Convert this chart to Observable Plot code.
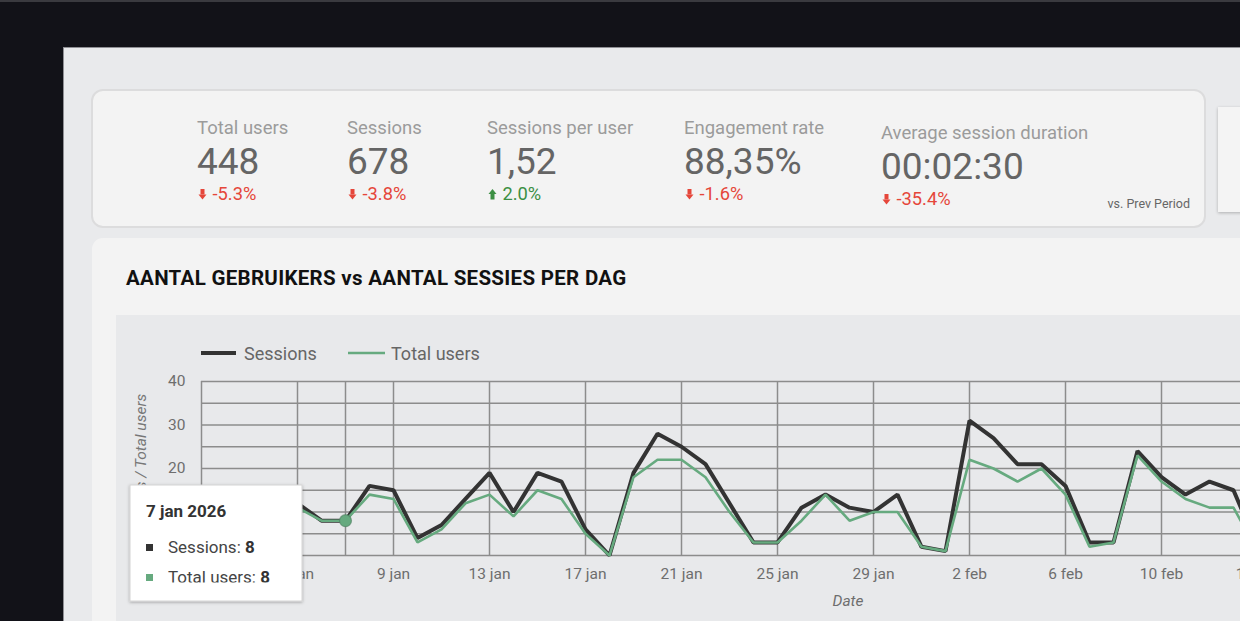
<!DOCTYPE html>
<html>
<head>
<meta charset="utf-8">
<script src="https://cdn.jsdelivr.net/npm/d3@7"></script>
<script src="https://cdn.jsdelivr.net/npm/@observablehq/plot@0.6"></script>
<style>
  html, body { margin: 0; padding: 0; width: 1240px; height: 621px; overflow: hidden; background: #121218; font-family: Roboto, sans-serif; }
  .abs { position: absolute; box-sizing: border-box; }
  #topline { left: 0; top: 0; width: 1240px; height: 2px; background: #3a3a3f; }
  #panel { left: 63px; top: 47px; width: 1200px; height: 600px; background: #e9eaec; border-top: 1px solid #8f8f94; border-left: 1px solid #8f8f94; }
  #kpicard { left: 91px; top: 89px; width: 1115px; height: 139px; background: #f3f3f3; border: 2px solid #dcdcdd; border-radius: 12px; }
  #sidecard { left: 1218px; top: 107px; width: 60px; height: 105px; background: #f4f4f4; box-shadow: 0 1px 3px rgba(0,0,0,0.25); }
  #chartcard { left: 92px; top: 238px; width: 1200px; height: 420px; background: #f3f3f3; border-radius: 11px; }
  #chartbg { left: 116px; top: 315px; width: 1200px; height: 330px; background: #e8e9eb; }
  #plotwrap { left: 116px; top: 370px; width: 1165px; height: 251px; }
  #plotwrap svg { display: block; max-width: none !important; }
  #overlay { left: 0; top: 0; width: 1240px; height: 621px; pointer-events: none; }
</style>
</head>
<body>
<div class="abs" id="topline"></div>
<div class="abs" id="panel"></div>
<div class="abs" id="kpicard"></div>
<div class="abs" id="sidecard"></div>
<div class="abs" id="chartcard"></div>
<div class="abs" id="chartbg"></div>
<div class="abs" id="plotwrap"></div>
<svg class="abs" id="overlay" width="1240" height="621"></svg>
<script>
// ---------- data ----------
const dates = [
  "2026-01-01","2026-01-02","2026-01-03","2026-01-04","2026-01-05","2026-01-06","2026-01-07",
  "2026-01-08","2026-01-09","2026-01-10","2026-01-11","2026-01-12","2026-01-13","2026-01-14",
  "2026-01-15","2026-01-16","2026-01-17","2026-01-18","2026-01-19","2026-01-20","2026-01-21",
  "2026-01-22","2026-01-23","2026-01-24","2026-01-25","2026-01-26","2026-01-27","2026-01-28",
  "2026-01-29","2026-01-30","2026-01-31","2026-02-01","2026-02-02","2026-02-03","2026-02-04",
  "2026-02-05","2026-02-06","2026-02-07","2026-02-08","2026-02-09","2026-02-10","2026-02-11",
  "2026-02-12","2026-02-13","2026-02-14"
];
const sessions = [3,9,4,5,12,8,8, 16,15,4,7,13,19,10, 19,17,6,0,19,28,25, 21,12,3,3,11,14,11, 10,14,2,1,31,27,21, 21,16,3,3,24,18,14, 17,15,2];
const totalUsers = [3,8,4,5,11,8,8, 14,13,3,6,12,14,9, 15,13,5,0,18,22,22, 18,10,3,3,8,14,8, 10,10,2,1,22,20,17, 20,14,2,3,23,17,13, 11,11,1];
const tickDates = ["2026-01-01","2026-01-05","2026-01-09","2026-01-13","2026-01-17","2026-01-21","2026-01-25","2026-01-29","2026-02-02","2026-02-06","2026-02-10","2026-02-14"];
const monthNames = ["jan","feb","mrt","apr","mei","jun","jul","aug","sep","okt","nov","dec"];
const yTicks = [0, 10, 20, 30, 40];
const yGrid = [0, 5, 10, 15, 20, 25, 30, 35, 40];
const xDomain = ["2026-01-01", "2026-02-15"];
const hoverDate = "2026-01-07";
const hoverIndex = 6;

const kpiLabels = ["Total users", "Sessions", "Sessions per user", "Engagement rate", "Average session duration"];
const kpiValues = ["448", "678", "1,52", "88,35%", "00:02:30"];
const kpiDeltas = ["-5.3%", "-3.8%", "2.0%", "-1.6%", "-35.4%"];
const kpiUp = [false, false, true, false, false];

const seriesNames = ["Sessions", "Total users"];
const seriesColors = ["#333333", "#66aa7f"];

// ---------- chart ----------
const parse = d3.utcParse("%Y-%m-%d");
const table = dates.map((d, i) => ({date: parse(d), sessions: sessions[i], users: totalUsers[i]}));
const ticks = tickDates.map(parse);
const fmt = d => `${d.getUTCDate()} ${monthNames[d.getUTCMonth()]}`;
const gridColor = "#8c8c8c";

const chart = Plot.plot({
  width: 1165,
  height: 251,
  marginLeft: 85,
  marginRight: 0,
  marginTop: 11,
  marginBottom: 66,
  style: {background: "transparent", fontFamily: "Roboto, sans-serif", fontSize: "15.5px", color: "#6e6e6e", maxWidth: "none"},
  x: {type: "utc", domain: xDomain.map(parse), ticks: ticks, tickFormat: fmt, tickSize: 0, tickPadding: 12, label: null},
  y: {domain: [0, 40], ticks: yTicks, tickSize: 0, tickPadding: 16, label: null},
  marks: [
    Plot.ruleY(yGrid, {stroke: gridColor, strokeWidth: 1.5}),
    Plot.ruleX(ticks, {stroke: gridColor, strokeWidth: 1.5}),
    Plot.ruleX([parse(hoverDate)], {stroke: gridColor, strokeWidth: 1.5}),
    Plot.lineY(table, {x: "date", y: "sessions", stroke: seriesColors[0], strokeWidth: 4, strokeLinejoin: "miter", strokeLinecap: "butt"}),
    Plot.lineY(table, {x: "date", y: "users", stroke: seriesColors[1], strokeWidth: 2.6, strokeLinejoin: "miter", strokeLinecap: "butt"}),
    Plot.dot([table[hoverIndex]], {x: "date", y: "users", r: 6, fill: seriesColors[1], stroke: "#4f7f60", strokeOpacity: 0.6, strokeWidth: 1.2})
  ]
});
chart.style.maxWidth = "none";
document.getElementById("plotwrap").appendChild(chart);

// ---------- overlay (KPIs, title, legend, axis titles, tooltip) ----------
const svg = d3.select("#overlay");
const defs = svg.append("defs");
const f = defs.append("filter").attr("id", "shadow").attr("x", "-20%").attr("y", "-20%").attr("width", "140%").attr("height", "140%");
f.append("feDropShadow").attr("dx", 0).attr("dy", 1).attr("stdDeviation", 1.6).attr("flood-color", "#000").attr("flood-opacity", 0.3);
defs.append("clipPath").attr("id", "ttclip").append("rect").attr("x", 130).attr("y", 485).attr("width", 172).attr("height", 97.5);

const kpiX = [197, 347, 487, 684, 881];
const kpiShift = [0, 0, 0, 0, 5];
kpiLabels.forEach((lab, i) => {
  const x = kpiX[i], s = kpiShift[i];
  svg.append("text").attr("x", x).attr("y", 134 + s).attr("font-size", 18.5).attr("fill", "#9b9b9b").text(lab);
  svg.append("text").attr("x", x).attr("y", 173.5 + s).attr("font-size", 37).attr("fill", "#656565").text(kpiValues[i]);
  const col = kpiUp[i] ? "#3c8f43" : "#e5463a";
  const cx = x + 5.5, top = 189 + s, bot = 199.5 + s;
  if (kpiUp[i]) {
    svg.append("path").attr("d", `M${cx-4},${top+5}L${cx},${top}L${cx+4},${top+5}Z`).attr("fill", col);
    svg.append("rect").attr("x", cx - 2).attr("y", top + 5).attr("width", 4).attr("height", bot - top - 5).attr("fill", col);
  } else {
    svg.append("rect").attr("x", cx - 2).attr("y", top).attr("width", 4).attr("height", bot - top - 5).attr("fill", col);
    svg.append("path").attr("d", `M${cx-4},${bot-5}L${cx},${bot}L${cx+4},${bot-5}Z`).attr("fill", col);
  }
  svg.append("text").attr("x", x + 15.5).attr("y", 199.5 + s).attr("font-size", 18.3).attr("fill", col).text(kpiDeltas[i]);
});
svg.append("text").attr("x", 1190).attr("y", 207.5).attr("text-anchor", "end").attr("font-size", 12.5).attr("fill", "#666").text("vs. Prev Period");

// title
svg.append("text").attr("x", 126).attr("y", 284.5).attr("font-size", 20.5).attr("letter-spacing", "0.3px").attr("font-weight", 700).attr("fill", "#111").text("AANTAL GEBRUIKERS vs AANTAL SESSIES PER DAG");

// legend
svg.append("line").attr("x1", 201).attr("x2", 236).attr("y1", 353).attr("y2", 353).attr("stroke", seriesColors[0]).attr("stroke-width", 4);
svg.append("text").attr("x", 244).attr("y", 359.5).attr("font-size", 18).attr("fill", "#666").text(seriesNames[0]);
svg.append("line").attr("x1", 348).attr("x2", 385).attr("y1", 353).attr("y2", 353).attr("stroke", seriesColors[1]).attr("stroke-width", 2.6);
svg.append("text").attr("x", 391).attr("y", 359.5).attr("font-size", 18).attr("fill", "#666").text(seriesNames[1]);

// axis titles
svg.append("text").attr("transform", "translate(146,468) rotate(-90)").attr("text-anchor", "middle").attr("font-size", 15.5).attr("font-style", "italic").attr("fill", "#777").text("Sessions / Total users");
svg.append("text").attr("x", 848).attr("y", 606).attr("text-anchor", "middle").attr("font-size", 15.5).attr("font-style", "italic").attr("fill", "#6e6e6e").text("Date");

// tooltip
svg.append("rect").attr("x", 130).attr("y", 485).attr("width", 172).attr("height", 116).attr("fill", "#fff").attr("stroke", "#d4d4d4").attr("stroke-width", 1).attr("filter", "url(#shadow)");
const hd = parse(hoverDate);
svg.append("text").attr("x", 146).attr("y", 516.5).attr("font-size", 17).attr("font-weight", 700).attr("fill", "#333")
  .text(`${hd.getUTCDate()} ${monthNames[hd.getUTCMonth()]} ${hd.getUTCFullYear()}`);
const tg = svg.append("g").attr("clip-path", "url(#ttclip)");
[[sessions[hoverIndex], 0, 544], [totalUsers[hoverIndex], 1, 574]].forEach(([v, k, y]) => {
  tg.append("rect").attr("x", 146).attr("y", y).attr("width", 7).attr("height", 7).attr("fill", seriesColors[k]);
  const t = tg.append("text").attr("x", 168).attr("y", y + 8.5).attr("font-size", 17).attr("fill", "#444");
  t.append("tspan").text(`${seriesNames[k]}: `);
  t.append("tspan").attr("font-weight", 700).attr("fill", "#333").text(v);
});
</script>
</body>
</html>
